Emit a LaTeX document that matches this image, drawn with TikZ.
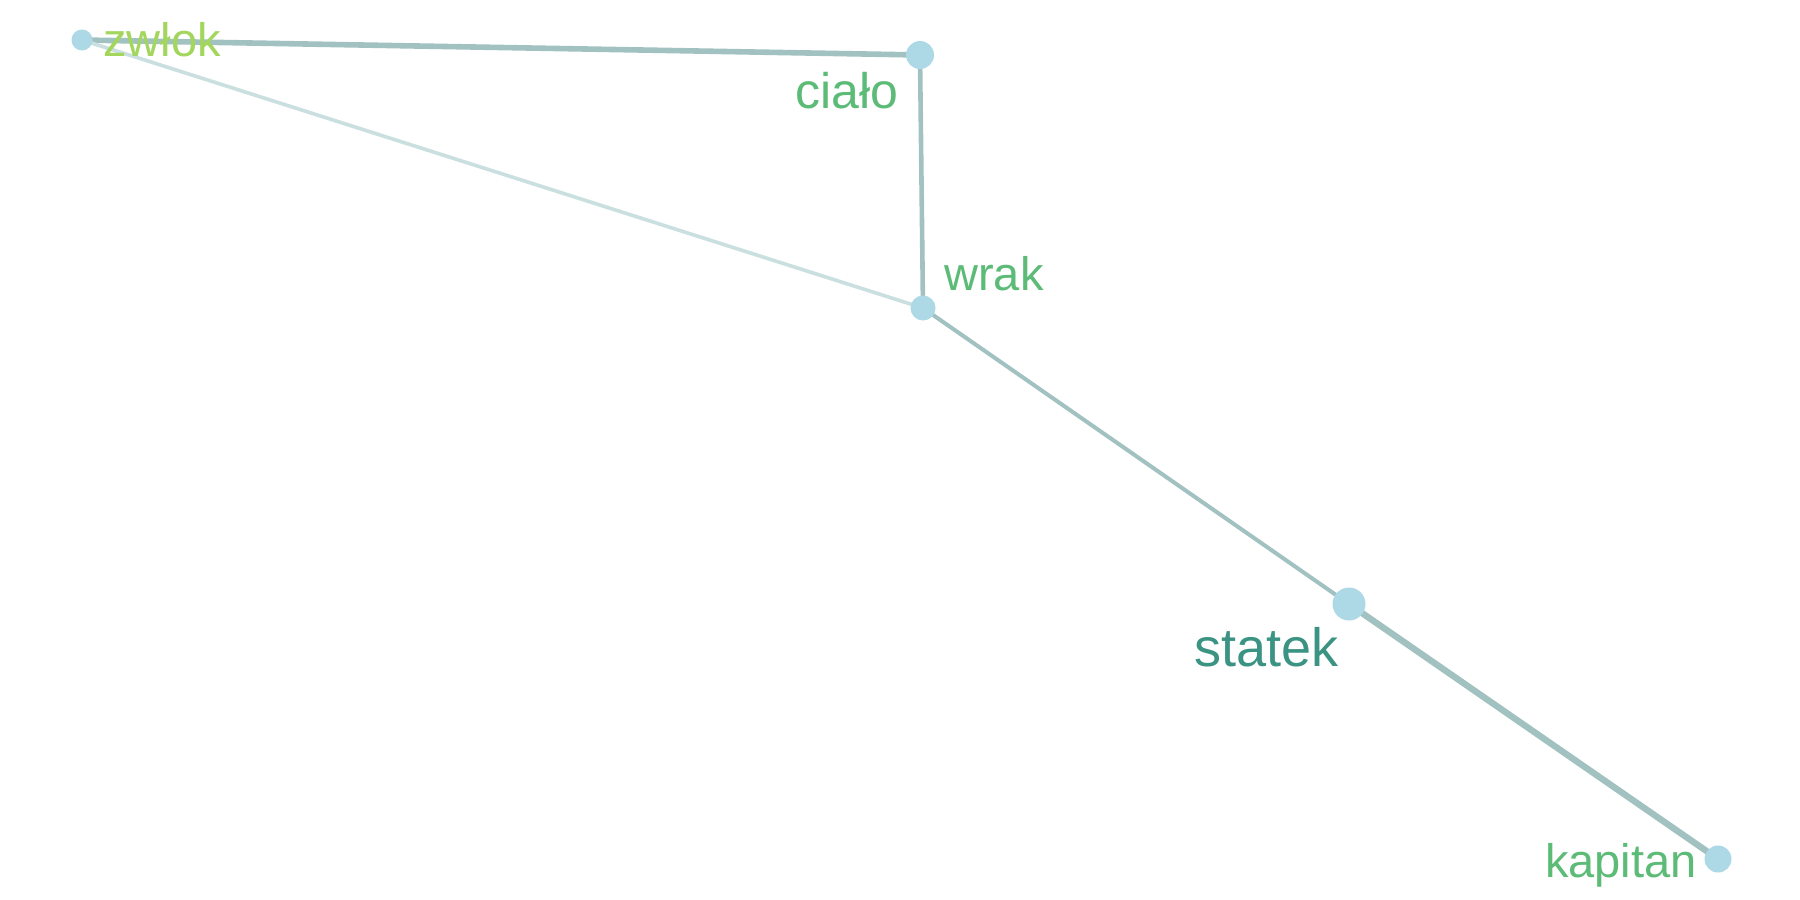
\documentclass[tikz,border=0pt]{standalone}
\usepackage{fontspec}
\setmainfont{Liberation Sans}
\definecolor{nodeblue}{HTML}{ADD8E6}
\definecolor{edgeA}{HTML}{A2C1C1}
\definecolor{edgeB}{HTML}{CADFDF}
\definecolor{lblLight}{HTML}{A2D65C}
\definecolor{lblMid}{HTML}{5CBB76}
\definecolor{lblDark}{HTML}{3A9383}
\tikzset{
  vert/.style={circle, fill=nodeblue, draw=none, inner sep=0pt, minimum size=#1},
  lbl/.style={inner sep=0pt, font=\fontsize{23.5pt}{28pt}\selectfont, text=lblMid},
  edge/.style={draw=edgeA, line width=#1},
}
\begin{document}
\begin{tikzpicture}[x=0.5pt,y=-0.5pt]
\useasboundingbox[fill=white] (0,0) rectangle (1800,900);
% node positions
\coordinate (pz) at (82,40);
\coordinate (pc) at (920,55);
\coordinate (pw) at (923,308);
\coordinate (ps) at (1349,604);
\coordinate (pk) at (1718,859);
% edges
\draw[edge=2.8pt] (pz) -- (pc);
\draw[edge=1.8pt, draw=edgeB] (pz) -- (pw);
\draw[edge=2.3pt] (pc) -- (pw);
\draw[edge=2.0pt] (pw) -- (ps);
\draw[edge=3.2pt] (ps) -- (pk);
% vertices
\node[vert=10.5pt] (zwlok) at (pz) {};
\node[vert=14pt] (cialo) at (pc) {};
\node[vert=12.5pt] (wrak) at (pw) {};
\node[vert=16.5pt] (statek) at (ps) {};
\node[vert=13.5pt] (kapitan) at (pk) {};
% labels
\node[lbl, text=lblLight, anchor=base west] (tz) at (103,56) {zwłok};
\node[lbl, font=\fontsize{25pt}{30pt}\selectfont, anchor=base east] (tc) at (899,108) {ciało};
\node[lbl, anchor=base west] (tw) at (944,290) {wrak};
\node[lbl, text=lblDark, font=\fontsize{27pt}{32pt}\selectfont, anchor=base east] (ts) at (1339,666) {statek};
\node[lbl, anchor=base east] (tk) at (1697,877) {kapitan};
\end{tikzpicture}
\end{document}
